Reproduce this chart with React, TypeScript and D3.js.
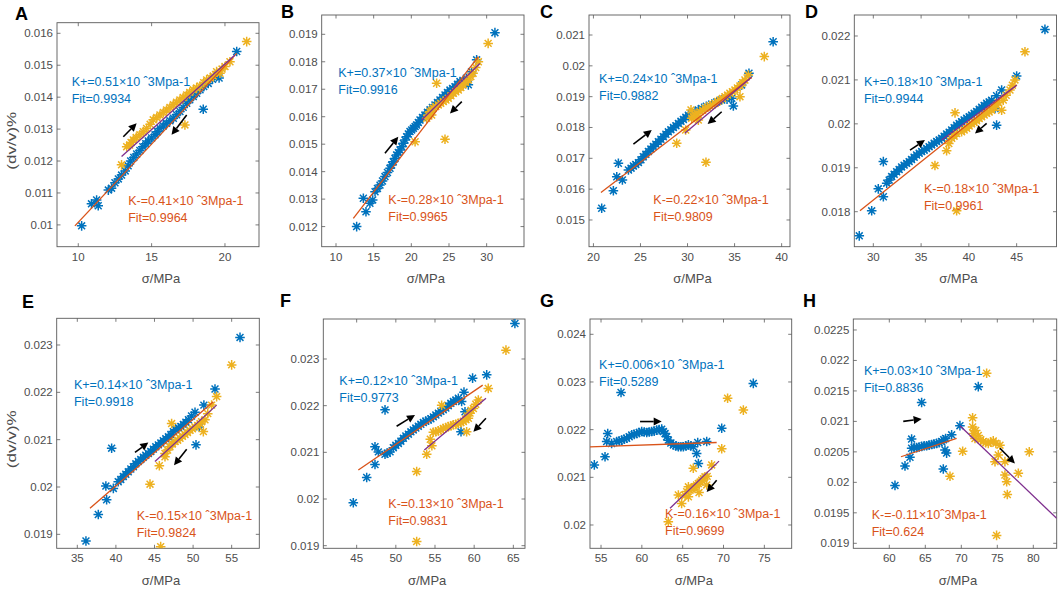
import * as d3 from 'd3'

type Pt = [number, number]

const panelLabels = ['A', 'B', 'C', 'D', 'E', 'F', 'G', 'H']

const kPlusLabels = [
  'K+=0.51×10 ˆ3Mpa-1', 'K+=0.37×10 ˆ3Mpa-1', 'K+=0.24×10 ˆ3Mpa-1', 'K+=0.18×10 ˆ3Mpa-1',
  'K+=0.14×10 ˆ3Mpa-1', 'K+=0.12×10 ˆ3Mpa-1', 'K+=0.006×10 ˆ3Mpa-1', 'K+=0.03×10 ˆ3Mpa-1',
]
const fitPlusLabels = ['Fit=0.9934', 'Fit=0.9916', 'Fit=0.9882', 'Fit=0.9944', 'Fit=0.9918', 'Fit=0.9773', 'Fit=0.5289', 'Fit=0.8836']
const kMinusLabels = [
  'K-=0.41×10 ˆ3Mpa-1', 'K-=0.28×10 ˆ3Mpa-1', 'K-=0.22×10 ˆ3Mpa-1', 'K-=0.18×10 ˆ3Mpa-1',
  'K-=0.15×10 ˆ3Mpa-1', 'K-=0.13×10 ˆ3Mpa-1', 'K-=0.16×10 ˆ3Mpa-1', 'K-=-0.11×10ˆ3Mpa-1',
]
const fitMinusLabels = ['Fit=0.9964', 'Fit=0.9965', 'Fit=0.9809', 'Fit=0.9961', 'Fit=0.9824', 'Fit=0.9831', 'Fit=0.9699', 'Fit=0.624']

// tick values
const aXTicks = [10, 15, 20]
const aYTicks = [0.01, 0.011, 0.012, 0.013, 0.014, 0.015, 0.016]
const bXTicks = [10, 15, 20, 25, 30]
const bYTicks = [0.012, 0.013, 0.014, 0.015, 0.016, 0.017, 0.018, 0.019]
const cXTicks = [20, 25, 30, 35, 40]
const cYTicks = [0.015, 0.016, 0.017, 0.018, 0.019, 0.02, 0.021]
const dXTicks = [30, 35, 40, 45]
const dYTicks = [0.018, 0.019, 0.02, 0.021, 0.022]
const eXTicks = [35, 40, 45, 50, 55]
const eYTicks = [0.019, 0.02, 0.021, 0.022, 0.023]
const fXTicks = [45, 50, 55, 60, 65]
const fYTicks = [0.019, 0.02, 0.021, 0.022, 0.023]
const gXTicks = [55, 60, 65, 70, 75]
const gYTicks = [0.02, 0.021, 0.022, 0.023, 0.024]
const hXTicks = [60, 65, 70, 75, 80]
const hYTicks = [0.019, 0.0195, 0.02, 0.0205, 0.021, 0.0215, 0.022, 0.0225]

// loading (blue) and unloading (yellow) points, [stress MPa, dv/v %]
const aBlue: Pt[] = [
  [10.23, 0.00997], [10.9, 0.01066], [11.25, 0.01078], [11.36, 0.0106], [12.05, 0.01109], [12.27, 0.01115],
  [12.73, 0.01144], [13.2, 0.01169], [13.57, 0.012], [13.98, 0.01222], [14.4, 0.01245], [14.77, 0.01263],
  [15.23, 0.01282], [15.57, 0.01302], [16.02, 0.01318], [16.48, 0.01334], [16.93, 0.01355], [17.39, 0.01381],
  [17.84, 0.01402], [18.3, 0.01423], [18.52, 0.01362], [18.86, 0.01443], [19.43, 0.0147], [19.6, 0.0146],
  [20.8, 0.01543], [12.5, 0.01132], [12.95, 0.01156], [13.4, 0.01185], [13.78, 0.01211], [14.2, 0.01233],
  [14.6, 0.01254], [15.0, 0.01272], [15.4, 0.01292], [15.8, 0.0131], [16.25, 0.01326], [16.7, 0.01345],
  [17.15, 0.01368], [17.6, 0.01392], [18.07, 0.01412], [18.55, 0.01433], [19.15, 0.01456],
]
const aYellow: Pt[] = [
  [21.48, 0.01574], [20.34, 0.01511], [20.0, 0.01496], [19.66, 0.01475], [19.2, 0.01466], [18.75, 0.01454],
  [18.3, 0.01435], [17.84, 0.01423], [17.39, 0.01407], [16.93, 0.01391], [16.48, 0.01376], [16.02, 0.0136],
  [15.57, 0.01344], [15.11, 0.01329], [14.66, 0.01302], [14.2, 0.01282], [13.75, 0.01266], [13.5, 0.0125],
  [12.95, 0.01188], [17.27, 0.01313], [19.43, 0.0148], [13.3, 0.01245], [13.6, 0.01258], [13.95, 0.01274],
  [14.43, 0.01292], [14.9, 0.01315], [15.35, 0.01336], [15.8, 0.01352], [16.25, 0.01368], [16.7, 0.01384],
  [17.15, 0.01399], [17.6, 0.01415], [18.07, 0.01429], [18.55, 0.01445], [19.0, 0.0146], [19.8, 0.01488],
]
const bBlue: Pt[] = [
  [12.74, 0.012], [13.63, 0.01303], [13.98, 0.01254], [14.87, 0.01297], [15.18, 0.01327], [15.84, 0.01351],
  [16.5, 0.01382], [17.17, 0.01412], [17.6, 0.01436], [18.05, 0.01461], [18.5, 0.01479], [18.94, 0.01503],
  [19.38, 0.01527], [19.82, 0.01546], [20.27, 0.01558], [20.7, 0.0157], [21.15, 0.01588], [21.8, 0.01606],
  [22.48, 0.01625], [23.14, 0.01643], [23.8, 0.01661], [24.47, 0.01679], [25.13, 0.01697], [25.8, 0.01709],
  [26.46, 0.01728], [27.57, 0.01716], [28.0, 0.01764], [28.67, 0.01807], [31.1, 0.01906],
  [14.5, 0.01285], [15.5, 0.01339], [16.17, 0.01366], [16.83, 0.01397], [17.38, 0.01424], [17.83, 0.01448],
  [18.27, 0.0147], [18.72, 0.01491], [19.16, 0.01515], [19.6, 0.01537], [20.05, 0.01552], [20.5, 0.01564],
  [20.93, 0.01579], [21.48, 0.01597], [22.14, 0.01616], [22.8, 0.01634], [23.47, 0.01652], [24.14, 0.0167],
  [24.8, 0.01688], [25.47, 0.01703], [26.13, 0.01718], [26.9, 0.0173], [27.3, 0.0174],
]
const bYellow: Pt[] = [
  [30.2, 0.01867], [28.9, 0.018], [28.2, 0.01758], [27.57, 0.01734], [26.9, 0.01716], [26.24, 0.01697],
  [25.58, 0.01685], [24.9, 0.01667], [24.25, 0.01655], [23.58, 0.01643], [22.9, 0.01631], [22.48, 0.01618],
  [22.04, 0.01594], [23.36, 0.01722], [24.47, 0.01518], [20.5, 0.01509], [22.7, 0.01606],
  [22.25, 0.01606], [22.7, 0.01624], [23.24, 0.01637], [23.9, 0.01649], [24.6, 0.01661], [25.25, 0.01676],
  [25.9, 0.01691], [26.57, 0.01706], [27.2, 0.01725], [27.9, 0.01746], [28.55, 0.01779],
]
const cBlue: Pt[] = [
  [20.88, 0.01538], [22.12, 0.01595], [22.65, 0.01684], [22.48, 0.0164], [23.08, 0.0163], [23.72, 0.01662],
  [24.25, 0.01675], [24.78, 0.01686], [25.3, 0.01705], [25.84, 0.01722], [26.37, 0.01738], [26.9, 0.01754],
  [27.43, 0.0177], [27.96, 0.01786], [28.5, 0.018], [29.03, 0.01813], [29.56, 0.01826], [30.09, 0.0184],
  [30.8, 0.01851], [31.5, 0.01862], [32.57, 0.01876], [33.63, 0.01889], [34.7, 0.01895], [34.87, 0.0187],
  [35.75, 0.01938], [36.53, 0.01976], [39.1, 0.02078],
  [24.0, 0.01668], [24.5, 0.0168], [25.05, 0.01695], [25.57, 0.01713], [26.1, 0.0173], [26.63, 0.01746],
  [27.17, 0.01762], [27.7, 0.01778], [28.23, 0.01793], [28.77, 0.01806], [29.3, 0.0182], [29.82, 0.01833],
  [30.45, 0.01846], [31.15, 0.01857], [32.0, 0.01869], [33.1, 0.01883], [34.2, 0.01892],
]
const cYellow: Pt[] = [
  [38.16, 0.0203], [36.46, 0.0197], [36.1, 0.01954], [35.57, 0.01935], [35.57, 0.019], [35.04, 0.01922],
  [34.5, 0.01911], [33.98, 0.019], [33.45, 0.01889], [32.92, 0.01878], [32.39, 0.0187], [31.86, 0.01862],
  [31.33, 0.01851], [30.8, 0.0184], [30.44, 0.0183], [30.37, 0.01857], [29.8, 0.01792], [28.85, 0.01749],
  [31.96, 0.01687], [31.15, 0.01824],
  [31.6, 0.01856], [32.1, 0.01866], [32.65, 0.01874], [33.2, 0.01884], [33.7, 0.01894], [34.25, 0.01905],
  [34.77, 0.01916], [35.3, 0.01928], [35.85, 0.01945], [31.0, 0.01845], [30.6, 0.01835],
]
const dBlue: Pt[] = [
  [28.53, 0.01745], [29.83, 0.01802], [30.52, 0.01852], [31.05, 0.01914], [31.05, 0.01834], [31.4, 0.01865],
  [31.92, 0.0188], [32.44, 0.01891], [32.96, 0.01902], [33.49, 0.0191], [34.0, 0.01919], [34.53, 0.01929],
  [35.06, 0.01937], [35.58, 0.01944], [36.1, 0.01952], [36.63, 0.0196], [37.15, 0.01967], [37.67, 0.01977],
  [38.2, 0.01986], [38.72, 0.01997], [39.24, 0.02005], [39.77, 0.02013], [40.29, 0.0202], [40.81, 0.02028],
  [41.34, 0.02038], [41.86, 0.02047], [42.38, 0.02054], [42.9, 0.01997], [42.73, 0.02035], [43.43, 0.02077],
  [45.0, 0.02109], [47.96, 0.02215],
  [31.66, 0.01872], [32.18, 0.01885], [32.7, 0.01896], [33.22, 0.01906], [33.75, 0.01914], [34.27, 0.01924],
  [34.8, 0.01933], [35.32, 0.0194], [35.84, 0.01948], [36.37, 0.01956], [36.89, 0.01963], [37.41, 0.01972],
  [37.94, 0.01981], [38.46, 0.01991], [38.98, 0.02001], [39.5, 0.02009], [40.03, 0.02016], [40.55, 0.02024],
  [41.08, 0.02033], [41.6, 0.02042], [42.12, 0.0205], [42.9, 0.02064],
]
const dYellow: Pt[] = [
  [45.87, 0.02164], [44.82, 0.021], [44.3, 0.02077], [43.6, 0.02054], [43.43, 0.02031], [42.9, 0.02043],
  [42.38, 0.02031], [41.86, 0.02024], [41.34, 0.02016], [40.81, 0.02007], [40.29, 0.02], [39.77, 0.0199],
  [39.24, 0.01982], [38.55, 0.02025], [38.72, 0.01978], [38.2, 0.01967], [37.67, 0.01939], [36.45, 0.01905],
  [38.72, 0.01802],
  [39.5, 0.01986], [40.03, 0.01995], [40.55, 0.02003], [41.08, 0.02012], [41.6, 0.0202], [42.12, 0.02027],
  [42.65, 0.02037], [43.1, 0.02048], [43.9, 0.02065], [44.55, 0.02088], [38.45, 0.01972], [37.9, 0.01955],
]
const eBlue: Pt[] = [
  [36.12, 0.01886], [37.72, 0.01942], [38.8, 0.01973], [38.7, 0.02002], [39.45, 0.02082], [39.67, 0.01997],
  [40.3, 0.02011], [40.96, 0.02022], [41.6, 0.02032], [42.26, 0.02043], [42.9, 0.02054], [43.55, 0.02063],
  [44.2, 0.02071], [44.85, 0.0208], [45.5, 0.02089], [46.14, 0.02098], [46.8, 0.02106], [47.44, 0.02117],
  [48.1, 0.02125], [48.74, 0.02132], [49.4, 0.02142], [50.25, 0.02158], [50.38, 0.02089], [50.8, 0.02127],
  [51.4, 0.02173], [52.84, 0.02207], [56.08, 0.02316],
  [40.63, 0.02016], [41.28, 0.02027], [41.93, 0.02038], [42.58, 0.02049], [43.22, 0.02058], [43.87, 0.02067],
  [44.52, 0.02075], [45.17, 0.02085], [45.82, 0.02093], [46.47, 0.02102], [47.12, 0.02111], [47.77, 0.02121],
  [48.42, 0.02128], [49.07, 0.02137], [49.8, 0.0215],
]
const eYellow: Pt[] = [
  [55.0, 0.02258], [53.05, 0.02191], [52.4, 0.02173], [51.54, 0.02142], [51.33, 0.02117], [50.9, 0.02134],
  [50.25, 0.02127], [49.6, 0.0212], [48.95, 0.02111], [48.3, 0.02103], [47.66, 0.02096], [47.22, 0.02134],
  [47.0, 0.02085], [46.36, 0.02071], [45.63, 0.02045], [44.42, 0.02006], [45.8, 0.01874], [46.36, 0.02064],
  [47.33, 0.02091], [48.0, 0.02099], [48.62, 0.02107], [49.27, 0.02115], [49.92, 0.02123], [50.6, 0.0213],
  [51.1, 0.02138], [46.7, 0.02078], [51.9, 0.02155],
]
const fBlue: Pt[] = [
  [44.57, 0.01992], [46.28, 0.02046], [47.34, 0.02074], [47.34, 0.02112], [47.77, 0.02101], [48.62, 0.02191],
  [48.62, 0.02096], [49.26, 0.02101], [49.68, 0.0211], [50.32, 0.02119], [50.96, 0.0213], [51.6, 0.02139],
  [52.23, 0.02148], [52.87, 0.02156], [53.51, 0.02164], [54.15, 0.02169], [54.79, 0.02176], [55.43, 0.02184],
  [56.06, 0.02191], [56.7, 0.022], [57.34, 0.02209], [57.98, 0.02216], [58.4, 0.02209], [58.7, 0.02229],
  [58.32, 0.02144], [58.83, 0.02187], [59.8, 0.02259], [61.6, 0.02266], [65.2, 0.02376],
  [50.0, 0.02115], [50.64, 0.02124], [51.28, 0.02135], [51.92, 0.02144], [52.55, 0.02152], [53.19, 0.0216],
  [53.83, 0.02167], [54.47, 0.02172], [55.11, 0.0218], [55.75, 0.02188], [56.38, 0.02195], [57.02, 0.02205],
  [57.66, 0.02212], [48.9, 0.02098],
]
const fYellow: Pt[] = [
  [64.06, 0.02319], [61.8, 0.02237], [60.53, 0.02212], [59.9, 0.02194], [59.47, 0.02184], [59.26, 0.02173],
  [58.62, 0.02166], [57.98, 0.02162], [57.34, 0.02159], [56.7, 0.02155], [56.06, 0.02151], [55.43, 0.02146],
  [54.79, 0.02143], [54.6, 0.02114], [53.94, 0.02096], [55.85, 0.02201], [52.66, 0.02059], [52.66, 0.01909],
  [59.04, 0.02144],
  [55.1, 0.02144], [55.75, 0.02148], [56.38, 0.02153], [57.02, 0.02157], [57.66, 0.0216], [58.3, 0.02164],
  [58.95, 0.0217], [59.6, 0.0219], [60.2, 0.02203], [54.4, 0.02128], [59.1, 0.02178],
]
const gBlue: Pt[] = [
  [54.18, 0.02126], [55.49, 0.02143], [55.82, 0.02192], [57.45, 0.02278], [55.69, 0.02175], [56.3, 0.02171],
  [56.92, 0.02175], [57.53, 0.02178], [58.14, 0.02182], [58.76, 0.02189], [59.37, 0.02192], [59.98, 0.02196],
  [60.6, 0.02194], [61.2, 0.02196], [61.82, 0.02199], [62.43, 0.02201], [62.84, 0.02192], [63.24, 0.02178],
  [63.86, 0.02168], [64.47, 0.02164], [65.08, 0.02164], [65.7, 0.02168], [66.3, 0.02164], [66.84, 0.02173],
  [66.71, 0.0215], [66.92, 0.02129], [67.94, 0.02175], [69.78, 0.02203], [73.65, 0.02297],
  [57.23, 0.02176], [57.84, 0.0218], [58.45, 0.02185], [59.06, 0.0219], [59.68, 0.02194], [60.29, 0.02195],
  [60.9, 0.02195], [61.51, 0.02197], [62.12, 0.022], [62.64, 0.02196], [63.04, 0.02185], [63.55, 0.02172],
  [64.17, 0.02166], [64.78, 0.02164], [65.39, 0.02166], [66.0, 0.02166],
]
const gYellow: Pt[] = [
  [70.5, 0.02266], [72.43, 0.02241], [69.78, 0.0216], [68.55, 0.02126], [66.3, 0.02119], [67.73, 0.02101],
  [67.33, 0.02094], [66.92, 0.02087], [66.5, 0.0208], [66.1, 0.02077], [65.7, 0.0208], [65.49, 0.0207],
  [65.7, 0.02059], [64.87, 0.02045], [63.24, 0.02007], [67.94, 0.02084], [64.47, 0.02063],
  [66.7, 0.02084], [67.13, 0.0209], [67.53, 0.02097], [66.3, 0.02078], [65.9, 0.02073], [65.3, 0.02062],
  [68.0, 0.02102], [67.0, 0.02068],
]
const hBlue: Pt[] = [
  [60.79, 0.01995], [62.18, 0.02027], [62.87, 0.02041], [63.1, 0.02071], [63.1, 0.02056], [63.8, 0.02057],
  [64.49, 0.02059], [65.19, 0.0206], [65.88, 0.02062], [66.57, 0.02064], [67.27, 0.02067], [67.82, 0.02072],
  [67.73, 0.02053], [67.96, 0.02048], [68.66, 0.02078], [67.5, 0.02022], [64.49, 0.02131], [69.81, 0.02093],
  [72.36, 0.02157],
  [63.45, 0.02057], [64.15, 0.02058], [64.84, 0.0206], [65.53, 0.02061], [66.22, 0.02063], [66.92, 0.02065],
  [67.55, 0.0207],
]
const hYellow: Pt[] = [
  [73.52, 0.02179], [71.57, 0.02106], [71.57, 0.02091], [71.67, 0.0208], [71.9, 0.02072], [72.36, 0.02077],
  [73.06, 0.02067], [73.75, 0.02064], [74.44, 0.02068], [75.37, 0.02061], [75.14, 0.02045], [76.06, 0.02034],
  [76.06, 0.02012], [76.3, 0.02001], [76.39, 0.0198], [77.92, 0.02015], [79.44, 0.0205], [70.19, 0.02051],
  [68.43, 0.0201], [74.9, 0.01913], [74.68, 0.02034],
  [72.7, 0.0207], [73.4, 0.02065], [74.1, 0.02066], [74.8, 0.02064], [72.0, 0.02085],
]

// fitted line end points: loading (orange) and unloading (purple)
const loadFits: Pt[][] = [
  [[9.77, 0.00997], [20.8, 0.01537]],
  [[12.3, 0.0123], [28.9, 0.01819]],
  [[20.8, 0.01589], [36.8, 0.01963]],
  [[28.6, 0.01802], [45.0, 0.02088]],
  [[36.64, 0.01955], [52.62, 0.0218]],
  [[45.21, 0.02062], [61.09, 0.02244]],
  [[53.65, 0.02164], [69.16, 0.02173]],
  [[61.62, 0.02042], [69.35, 0.02072]],
]
const unloadFits: Pt[][] = [
  [[12.95, 0.01214], [20.68, 0.01532]],
  [[21.37, 0.01588], [29.1, 0.01794]],
  [[29.7, 0.01781], [36.8, 0.01963]],
  [[37.15, 0.01963], [45.0, 0.02088]],
  [[45.06, 0.02054], [53.05, 0.02173]],
  [[53.64, 0.02105], [61.51, 0.02216]],
  [[63.45, 0.02035], [69.45, 0.02134]],
  [[69.81, 0.02093], [83.24, 0.01941]],
]
// arrows [from, to]
const loadArrows: Pt[][] = [
  [[13.07, 0.01276], [13.98, 0.01318]],
  [[16.5, 0.01467], [18.27, 0.01527]],
  [[24.25, 0.01746], [26.2, 0.01792]],
  [[33.84, 0.0194], [35.4, 0.01963]],
  [[42.47, 0.02073], [44.2, 0.02094]],
  [[50.1, 0.02156], [52.45, 0.0218]],
  [[59.78, 0.02217], [62.43, 0.02217]],
  [[61.94, 0.021], [64.49, 0.02104]],
]
const unloadArrows: Pt[][] = [
  [[17.39, 0.01344], [16.36, 0.01282]],
  [[26.7, 0.01655], [25.13, 0.01612]],
  [[33.63, 0.01851], [32.14, 0.01811]],
  [[41.86, 0.02001], [40.64, 0.01978]],
  [[49.17, 0.0208], [47.53, 0.02046]],
  [[61.5, 0.02173], [59.9, 0.02144]],
  [[69.16, 0.02094], [67.94, 0.02069]],
  [[75.37, 0.02056], [77.45, 0.02031]],
]

const blueSets = [aBlue, bBlue, cBlue, dBlue, eBlue, fBlue, gBlue, hBlue]
const yellowSets = [aYellow, bYellow, cYellow, dYellow, eYellow, fYellow, gYellow, hYellow]

// layout: plot box in px, axis domains, annotation anchors in data units
const layout = [
  { box: [57, 22.7, 259, 246.7], xd: [8.55, 22.32], yd: [0.009317, 0.016332], xt: aXTicks, yt: aYTicks, kp: [9.55, 0.01435], km: [13.4, 0.01062], lab: [15, 20] },
  { box: [321.7, 15, 524, 246.7], xd: [8.1, 34.96], yd: [0.011268, 0.019703], xt: bXTicks, yt: bYTicks, kp: [10.3, 0.01746], km: [16.95, 0.01282], lab: [281, 18] },
  { box: [589, 15, 790, 246.7], xd: [19.53, 40.89], yd: [0.014133, 0.021649], xt: cXTicks, yt: cYTicks, kp: [20.6, 0.01943], km: [26.37, 0.01552], lab: [540, 18] },
  { box: [854.3, 15, 1056.5, 246.7], xd: [28.01, 49.17], yd: [0.017203, 0.022478], xt: dXTicks, yt: dYTicks, kp: [29.02, 0.02086], km: [35.3, 0.01843], lab: [805, 18] },
  { box: [56.7, 318.3, 259.3, 548.3], xd: [32.33, 58.58], yd: [0.018705, 0.023564], xt: eXTicks, yt: eYTicks, kp: [34.57, 0.02208], km: [42.7, 0.0193], lab: [22, 308] },
  { box: [323.3, 319, 525, 548.3], xd: [40.74, 66.49], yd: [0.018944, 0.023857], xt: fXTicks, yt: fYTicks, kp: [42.79, 0.02244], km: [49.04, 0.0198], lab: [280, 307] },
  { box: [590, 319, 791.7, 548.3], xd: [53.65, 78.35], yd: [0.019511, 0.024321], xt: gXTicks, yt: gYTicks, kp: [54.76, 0.02327], km: [62.84, 0.02014], lab: [540, 307] },
  { box: [853.3, 319, 1056.7, 548.3], xd: [55.0, 83.25], yd: [0.018918, 0.02268], xt: hXTicks, yt: hYTicks, kp: [56.48, 0.02176], km: [57.55, 0.0194], lab: [803, 307] },
]

const BLUE = '#0072BD'
const YELLOW = '#EDB120'
const ORANGE = '#D95319'
const PURPLE = '#7E2F8E'
const AXIS = '#5a5a5a'
const FONT = '"Liberation Sans", Arial, sans-serif'

function Star({ x, y, color }: { x: number; y: number; color: string }) {
  const r = 4.8
  const a = r * 0.72
  const d = `M${x - r},${y}H${x + r}M${x},${y - r}V${y + r}M${x - a},${y - a}L${x + a},${y + a}M${x - a},${y + a}L${x + a},${y - a}`
  return <path d={d} stroke={color} strokeWidth={1.5} fill="none" />
}

function Arrow({ from, to }: { from: Pt; to: Pt }) {
  const ang = Math.atan2(to[1] - from[1], to[0] - from[0])
  const hl = 8, hw = 4
  const bx = to[0] - hl * Math.cos(ang), by = to[1] - hl * Math.sin(ang)
  const px = -Math.sin(ang) * hw, py = Math.cos(ang) * hw
  return (
    <g>
      <line x1={from[0]} y1={from[1]} x2={bx} y2={by} stroke="#000" strokeWidth={1.6} />
      <path d={`M${to[0]},${to[1]}L${bx + px},${by + py}L${bx - px},${by - py}Z`} fill="#000" />
    </g>
  )
}

function Panel({ i }: { i: number }) {
  const L = layout[i]
  const [x0, y0, x1, y1] = L.box
  const x = d3.scaleLinear().domain(L.xd).range([x0, x1])
  const y = d3.scaleLinear().domain(L.yd).range([y1, y0])
  const fmt = (v: number) => String(+v.toFixed(5))
  const tl = 3.5
  const cx = (x0 + x1) / 2
  const xLabelY = i < 4 ? 283 : 585
  const line = d3.line<Pt>().x(d => x(d[0])).y(d => y(d[1]))
  const arrowPx = (seg: Pt[]) => seg.map(p => [x(p[0]), y(p[1])] as Pt)
  return (
    <g fontFamily={FONT}>
      <defs>
        <clipPath id={`clip${i}`}>
          <rect x={x0} y={y0} width={x1 - x0} height={y1 - y0} />
        </clipPath>
      </defs>
      <rect x={x0} y={y0} width={x1 - x0} height={y1 - y0} fill="#fff" stroke={AXIS} strokeWidth={0.9} />
      {L.xt.map(t => (
        <g key={'x' + t}>
          <line x1={x(t)} x2={x(t)} y1={y1} y2={y1 - tl} stroke={AXIS} strokeWidth={0.8} />
          <line x1={x(t)} x2={x(t)} y1={y0} y2={y0 + tl} stroke={AXIS} strokeWidth={0.8} />
          <text x={x(t)} y={y1 + 14} textAnchor="middle" fontSize={11.5} fill="#4d4d4d">{fmt(t)}</text>
        </g>
      ))}
      {L.yt.map(t => (
        <g key={'y' + t}>
          <line x1={x0} x2={x0 + tl} y1={y(t)} y2={y(t)} stroke={AXIS} strokeWidth={0.8} />
          <line x1={x1} x2={x1 - tl} y1={y(t)} y2={y(t)} stroke={AXIS} strokeWidth={0.8} />
          <text x={x0 - 4} y={y(t) + 4} textAnchor="end" fontSize={11.5} fill="#4d4d4d">{fmt(t)}</text>
        </g>
      ))}
      <g clipPath={`url(#clip${i})`}>
        {blueSets[i].map((p, j) => <Star key={'b' + j} x={x(p[0])} y={y(p[1])} color={BLUE} />)}
        {yellowSets[i].map((p, j) => <Star key={'o' + j} x={x(p[0])} y={y(p[1])} color={YELLOW} />)}
        <path d={line(loadFits[i]) ?? ''} stroke={ORANGE} strokeWidth={1.3} fill="none" />
        <path d={line(unloadFits[i]) ?? ''} stroke={PURPLE} strokeWidth={1.3} fill="none" />
      </g>
      {[loadArrows[i], unloadArrows[i]].map((seg, j) => {
        const [a, b] = arrowPx(seg)
        return <Arrow key={'a' + j} from={a} to={b} />
      })}
      <text x={x(L.kp[0])} y={y(L.kp[1])} fontSize={12.5} fill={BLUE}>{kPlusLabels[i]}</text>
      <text x={x(L.kp[0])} y={y(L.kp[1]) + 17} fontSize={12.5} fill={BLUE}>{fitPlusLabels[i]}</text>
      <text x={x(L.km[0])} y={y(L.km[1])} fontSize={12.5} fill={ORANGE}>{kMinusLabels[i]}</text>
      <text x={x(L.km[0])} y={y(L.km[1]) + 17} fontSize={12.5} fill={ORANGE}>{fitMinusLabels[i]}</text>
      <text x={cx + 3} y={xLabelY} textAnchor="middle" fontSize={13} fill="#4d4d4d">σ/MPa</text>
      {i % 4 === 0 && (
        <text transform={`translate(16,${(y0 + y1) / 2 + 6}) rotate(-90)`} textAnchor="middle" fontSize={13.5} fill="#4d4d4d" textLength={58} lengthAdjust="spacingAndGlyphs">(dv/v)%</text>
      )}
      <text x={L.lab[0]} y={L.lab[1]} fontSize={18} fontWeight="bold" fill="#000">{panelLabels[i]}</text>
    </g>
  )
}

export default function App() {
  return (
    <svg width={1059} height={590} style={{ position: 'fixed', left: 0, top: 0, background: '#fff' }}>
      <rect width={1059} height={590} fill="#fff" />
      {panelLabels.map((_, i) => <Panel key={i} i={i} />)}
    </svg>
  )
}
